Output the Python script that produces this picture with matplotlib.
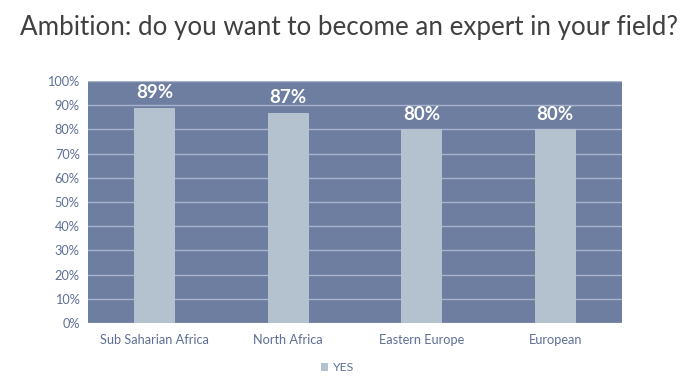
import numpy as np
import matplotlib.pyplot as plt

plt.rcParams['font.family'] = ['Lato', 'DejaVu Sans']

regions = ['Sub Saharian Africa', 'North Africa', 'Eastern Europe', 'European']
yes_pct = [89, 87, 80, 80]

bg_col = '#6E7EA1'
bar_col = '#B4C2CF'
grid_col = '#A9B5CE'
txt_col = '#5F6F94'

fig = plt.figure(figsize=(7, 3.86), dpi=100)
ax = fig.add_axes([0.1257, 0.1632, 0.7629, 0.6268])
ax.set_facecolor(bg_col)

x = np.arange(len(regions))
bars = ax.bar(x, yes_pct, width=0.31, color=bar_col, label='YES', zorder=3)

for xi, v in zip(x, yes_pct):
    ax.annotate(f'{v}%', (xi, v), xytext=(0, 5), textcoords='offset points',
                ha='center', va='bottom', color='white', fontsize=13.5, fontweight='bold')

ax.set_xlim(-0.5, len(regions) - 0.5)
ax.set_ylim(0, 100)
ax.set_yticks(np.arange(0, 101, 10))
ax.set_yticklabels([f'{t}%' for t in range(0, 101, 10)])
ax.set_xticks(x)
ax.set_xticklabels(regions)
ax.tick_params(axis='both', length=0, colors=txt_col, labelsize=9.2)
ax.tick_params(axis='x', pad=8)
ax.tick_params(axis='y', pad=6)
ax.grid(axis='y', color=grid_col, linewidth=1, zorder=1)
for s in ax.spines.values():
    s.set_visible(False)

fig.text(0.029, 0.93, 'Ambition: do you want to become an expert in your field?',
         fontsize=18.7, color='#404040', ha='left', va='center')

leg = fig.legend(handles=[bars], labels=['YES'], loc='center', bbox_to_anchor=(0.482, 0.047),
                 frameon=False, fontsize=8.8, handlelength=0.6, handleheight=0.6,
                 handletextpad=0.4)
for t in leg.get_texts():
    t.set_color(txt_col)

fig.savefig('out.png', dpi=100)
